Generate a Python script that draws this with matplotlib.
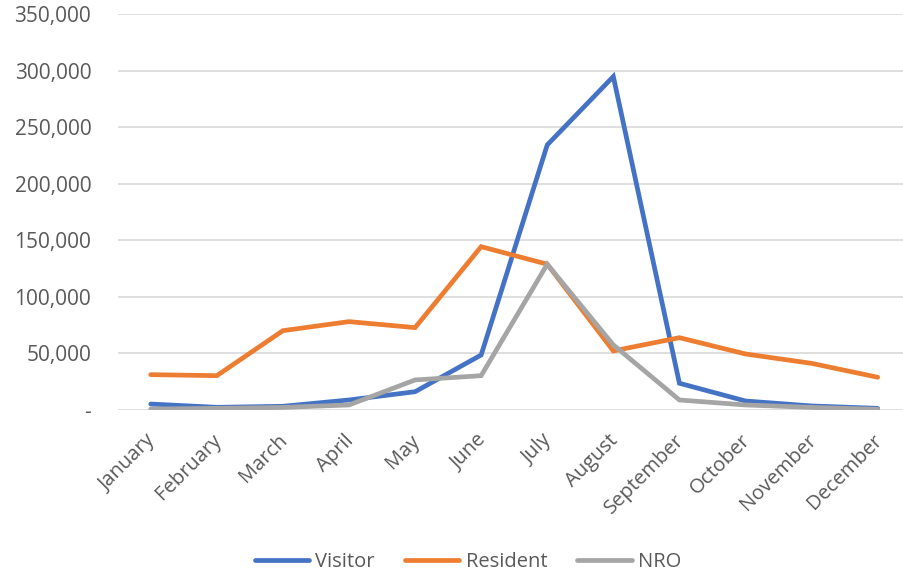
import matplotlib.pyplot as plt
from matplotlib.ticker import FuncFormatter
from matplotlib.transforms import ScaledTranslation

months = ['January', 'February', 'March', 'April', 'May', 'June', 'July',
          'August', 'September', 'October', 'November', 'December']
visitor = [5000, 2100, 3000, 8600, 15900, 48400, 234200, 294700, 23400, 7700, 3300, 1200]
resident = [31000, 30100, 69900, 77900, 72600, 144200, 128700, 52000, 63700, 49300, 41000, 28700]
nro = [600, 1200, 2000, 4200, 26300, 30100, 128700, 57300, 8600, 4200, 2000, 350]

plt.rcParams['font.family'] = ['Open Sans', 'DejaVu Sans']
txt = '#595959'

fig = plt.figure(figsize=(9.04, 5.73), dpi=100)
ax = fig.add_axes([117.7 / 904, 1 - 409.7 / 573, 793 / 904, (409.7 - 14) / 573])

x = range(len(months))
style = dict(lw=3.4, solid_capstyle='round', solid_joinstyle='miter')
ax.plot(x, visitor, color='#4472C4', label='Visitor', **style)
ax.plot(x, resident, color='#ED7D31', label='Resident', **style)
ax.plot(x, nro, color='#A5A5A5', label='NRO', **style)

ax.set_xlim(-0.5, 11.5)
ax.set_ylim(0, 350000)
ax.set_yticks(range(0, 350001, 50000))
ax.yaxis.set_major_formatter(FuncFormatter(lambda v, p: '-' if v == 0 else f'{int(v):,}'))
ax.grid(axis='y', color='#D9D9D9', lw=1.2)
ax.set_axisbelow(True)
for s in ax.spines.values():
    s.set_visible(False)
ax.tick_params(length=0, colors=txt, labelsize=14.5)
ax.tick_params(axis='y', pad=19, labelsize=15)
ax.set_xticks(list(x))
ax.set_xticklabels(months, rotation=45, ha='right', rotation_mode='anchor')
ax.tick_params(axis='x', pad=15)
shift = ScaledTranslation(-5 / 100, 0, fig.dpi_scale_trans)
for lab in ax.get_xticklabels():
    lab.set_transform(lab.get_transform() + shift)

leg = fig.legend(loc='center', bbox_to_anchor=(468 / 904, 1 - 562 / 573), ncol=3, frameon=False,
                 fontsize=14.5, handlelength=2.7, columnspacing=1.5, handletextpad=0.3)
for t in leg.get_texts():
    t.set_color(txt)

fig.savefig('out.png', dpi=100)
